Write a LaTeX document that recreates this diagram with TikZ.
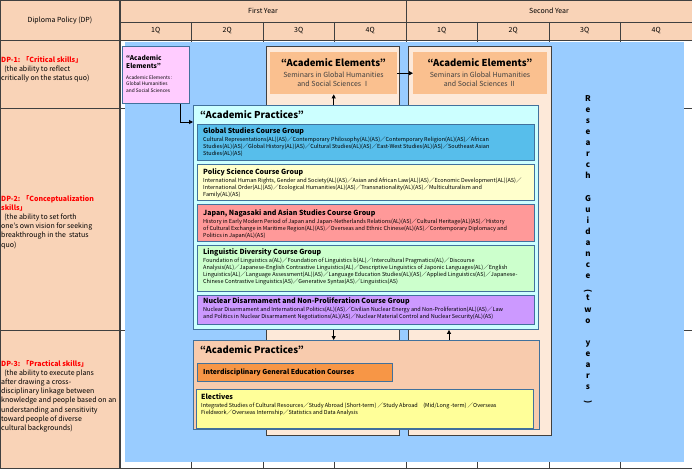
\documentclass[tikz,border=0pt]{standalone}
\usepackage{fontspec}
\setmainfont{Noto Sans CJK JP}
\usepackage{graphicx}
\usetikzlibrary{arrows.meta}
\definecolor{peach}{HTML}{F9D3B7}
\definecolor{gridc}{HTML}{404040}
\definecolor{bgblue}{HTML}{99CCFF}
\definecolor{pinkbox}{HTML}{FFCCFF}
\definecolor{boxblue}{HTML}{41719C}
\definecolor{lightpeach}{HTML}{FDE9D9}
\definecolor{orangebox}{HTML}{FAC08F}
\definecolor{cyanbox}{HTML}{CCFFFF}
\definecolor{gsblue}{HTML}{57BEEB}
\definecolor{psyellow}{HTML}{FFFFCC}
\definecolor{jpred}{HTML}{FF9999}
\definecolor{lggreen}{HTML}{CCFFCC}
\definecolor{ncviolet}{HTML}{CC99FF}
\definecolor{bpeach}{HTML}{F8CBAD}
\definecolor{idorange}{HTML}{F79646}
\definecolor{elyellow}{HTML}{FFFF99}
\definecolor{dpred}{HTML}{FF0000}
\definecolor{subgray}{HTML}{404040}
\begin{document}
\begin{tikzpicture}[x=1pt,y=-1pt,
  gridline/.style={draw=gridc, line width=0.8pt},
  hdr/.style={font=\fontsize{7}{8}\selectfont, inner sep=0pt},
  grpbox/.style={draw=boxblue, line width=0.9pt, anchor=north west, inner sep=0pt},
  outerbox/.style={draw=gridc, line width=1.3pt, fill=lightpeach, anchor=north west, inner sep=0pt},
  ttl/.style={font=\bfseries\fontsize{7}{8}\selectfont, anchor=west, inner sep=0pt},
  bodytxt/.style={font=\fontsize{5.5}{7.2}\selectfont, align=left, anchor=north west, inner sep=0pt},
  bigttl/.style={font=\bfseries\fontsize{9.5}{11}\selectfont, inner sep=0pt},
  dptxt/.style={font=\fontsize{7}{9.2}\selectfont, align=left, anchor=north west, inner sep=0pt},
  arr/.style={draw=black, line width=0.9pt, -{Triangle[length=4pt,width=4pt]}},
]
\useasboundingbox (0,0) rectangle (692,468);
% table background
\fill[peach] (0,0) rectangle (692,40);
\fill[peach] (0,40) rectangle (120,468);
\fill[white] (120,40) rectangle (692,468);
% grid
\draw[gridline] (0,0) rectangle (692,468);
\draw[gridline] (120,22) -- (692,22);
\draw[gridline] (0,40) -- (692,40);
\draw[gridline] (0,108) -- (692,108);
\draw[gridline] (0,330) -- (692,330);
\draw[gridline, line width=1.2pt] (120,0) -- (120,468);
\draw[gridline] (406,0) -- (406,468);
\foreach \xx in {191.5,263,334.5,477.5,549,620.5} \draw[gridline] (\xx,22) -- (\xx,468);
% header text
\node[hdr] (dph) at (60,20) {Diploma Policy (DP)};
\node[hdr] (fy) at (263,11) {First Year};
\node[hdr] (sy) at (549,11) {Second Year};
\foreach \i/\q in {0/1Q,1/2Q,2/3Q,3/4Q,4/1Q,5/2Q,6/3Q,7/4Q}
  \node[hdr] (q\i) at ({155.75+71.5*\i},31) {\q};
% DP texts
\node[dptxt] (dp1) at (1,56) {\textcolor{dpred}{\bfseries DP-1: 「Critical skills」}\\\ \ (the ability to reflect\\critically on the status quo)};
\node[dptxt] (dp2) at (1,195) {\textcolor{dpred}{\bfseries DP-2: 「Conceptualization}\\\textcolor{dpred}{\bfseries skills」}\\\ \ (the ability to set forth\\one’s own vision for seeking\\breakthrough in the \ status\\quo)};
\node[dptxt] (dp3) at (1,360) {\textcolor{dpred}{\bfseries DP-3: 「Practical skills」}\\\ \ (the ability to execute plans\\after drawing a cross-\\disciplinary linkage between\\knowledge and people based on an\\understanding and sensitivity\\toward people of diverse\\cultural backgrounds)};
% blue area
\fill[bgblue] (125,42) rectangle (684,462);
% outer boxes
\node[outerbox, minimum width=133, minimum height=389] (ob1) at (266,46) {};
\node[outerbox, minimum width=143, minimum height=389] (ob2) at (408,46) {};
\node[fill=orangebox, minimum width=127, minimum height=42, anchor=north west, inner sep=0pt] (ae1) at (270,52) {};
\node[fill=orangebox, minimum width=134, minimum height=42, anchor=north west, inner sep=0pt] (ae2) at (413,52) {};
\node[bigttl] (ae1t) at (333.5,63) {“Academic Elements”};
\node[font=\fontsize{7}{9}\selectfont, align=center, text=subgray, inner sep=0pt] (ae1s) at (333.5,79) {Seminars in Global Humanities\\and Social Sciences Ⅰ};
\node[bigttl] (ae2t) at (480,63) {“Academic Elements”};
\node[font=\fontsize{7}{9}\selectfont, align=center, text=subgray, inner sep=0pt] (ae2s) at (480,79) {Seminars in Global Humanities\\and Social Sciences Ⅱ};
% pink box
\node[grpbox, fill=pinkbox, minimum width=67, minimum height=57] (ae0) at (122,46) {};
\node[font=\bfseries\fontsize{6.5}{7.7}\selectfont, align=left, anchor=north west, inner sep=0pt] (ae0t) at (126,55) {“Academic\\Elements”};
\node[font=\fontsize{4.8}{6.5}\selectfont, align=left, anchor=north west, inner sep=0pt] (ae0b) at (126,75) {Academic Elements :\\Global Humanities\\and Social Sciences};
% academic practices (upper)
\node[grpbox, fill=cyanbox, minimum width=345, minimum height=224] (ap1) at (193,105) {};
\node[bigttl, anchor=west] (ap1t) at (200,115) {“Academic Practices”};
\node[grpbox, fill=gsblue, minimum width=337, minimum height=36] (gs) at (197,124) {};
\node[ttl] (gst) at (203,131) {Global Studies Course Group};
\node[bodytxt] (gsb) at (203,136.5) {Cultural Representations(AL)(AS)／Contemporary Philosophy(AL)(AS)／Contemporary Religion(AL)(AS)／African\\Studies(AL)(AS)／Global History(AL)(AS)／Cultural Studies(AL)(AS)／East-West Studies(AL)(AS)／Southeast Asian\\Studies(AL)(AS)};
\node[grpbox, fill=psyellow, minimum width=337, minimum height=36] (ps) at (197,164) {};
\node[ttl] (pst) at (203,172) {Policy Science Course Group};
\node[bodytxt] (psb) at (203,177.5) {International Human Rights, Gender and Society(AL)(AS)／Asian and African Law(AL)(AS)／Economic Development(AL)(AS)／\\International Order(AL)(AS)／Ecological Humanities(AL)(AS)／Transnationality(AL)(AS)／Multiculturalism and\\Family(AL)(AS)};
\node[grpbox, fill=jpred, minimum width=337, minimum height=37] (jp) at (197,204) {};
\node[ttl] (jpt) at (203,213) {Japan, Nagasaki and Asian Studies Course Group};
\node[bodytxt] (jpb) at (203,218.2) {History in Early Modern Period of Japan and Japan-Netherlands Relations(AL)(AS)／Cultural Heritage(AL)(AS)／History\\of Cultural Exchange in Maritime Region(AL)(AS)／Overseas and Ethnic Chinese(AL)(AS)／Contemporary Diplomacy and\\Politics in Japan(AL)(AS)};
\node[grpbox, fill=lggreen, minimum width=337, minimum height=46] (lg) at (197,245) {};
\node[ttl] (lgt) at (203,252.5) {Linguistic Diversity Course Group};
\node[bodytxt] (lgb) at (203,257.5) {Foundation of Linguistics a(AL)／Foundation of Linguistics b(AL)／Intercultural Pragmatics(AL)／Discourse\\Analysis(AL)／Japanese-English Contrastive Linguistics(AL)／Descriptive Linguistics of Japonic Languages(AL)／English\\Linguistics(AL)／Language Assessment(AL)(AS)／Language Education Studies(AL)(AS)／Applied Linguistics(AS)／Japanese-\\Chinese Contrastive Linguistics(AS)／Generative Syntax(AS)／Linguistics(AS)};
\node[grpbox, fill=ncviolet, minimum width=337, minimum height=29] (nc) at (197,295) {};
\node[ttl] (nct) at (203,301.5) {Nuclear Disarmament and Non-Proliferation Course Group};
\node[bodytxt] (ncb) at (203,306.5) {Nuclear Disarmament and International Politics(AL)(AS)／Civilian Nuclear Energy and Non-Proliferation(AL)(AS)／Law\\and Politics in Nuclear Disarmament Negotiations(AL)(AS)／Nuclear Material Control and Nuclear Security(AL)(AS)};
% academic practices (lower)
\node[grpbox, fill=bpeach, minimum width=346, minimum height=89] (ap2) at (193,340) {};
\node[bigttl, anchor=west] (ap2t) at (200,349.5) {“Academic Practices”};
\node[grpbox, fill=idorange, minimum width=195, minimum height=18] (id) at (197,363) {};
\node[ttl, font=\bfseries\fontsize{6.8}{8}\selectfont] (idt) at (203,372) {Interdisciplinary General Education Courses};
\node[grpbox, fill=elyellow, minimum width=337, minimum height=39] (el) at (196,389) {};
\node[ttl] (elt) at (201,397) {Electives};
\node[bodytxt] (elb) at (201,402.5) {Integrated Studies of Cultural Resources／Study Abroad (Short-term) ／Study Abroad　(Mid/Long -term) ／Overseas\\Fieldwork／Overseas Internship／Statistics and Data Analysis};
% research guidance
\node[font=\bfseries\fontsize{8}{11.1}\selectfont, align=center, anchor=north, inner sep=0pt] (rg) at (588,95) {R\\e\\s\\e\\a\\r\\c\\h\\\mbox{}\\G\\u\\i\\d\\a\\n\\c\\e\\\rotatebox{-90}{(}\\t\\w\\o\\\mbox{}\\y\\e\\a\\r\\s\\\rotatebox{-90}{)}};
% connectors
\coordinate (pkx) at ([xshift=24.5pt]ae0.south);
\draw[arr] (pkx) |- ([yshift=-17pt]ap1.north west);
\draw[arr] (ae1.south |- ap1.north) -- (ae1.south);
\draw[arr] (ae1.east) -- (ae2.west);
\draw[arr] (ae1.south |- ap1.south) -- (ae1.south |- ap2.north);
\coordinate (upx) at ([xshift=41pt]ob2.west);
\draw[arr] (upx |- ap2.north) -- (upx |- ap1.south);
\end{tikzpicture}
\end{document}
